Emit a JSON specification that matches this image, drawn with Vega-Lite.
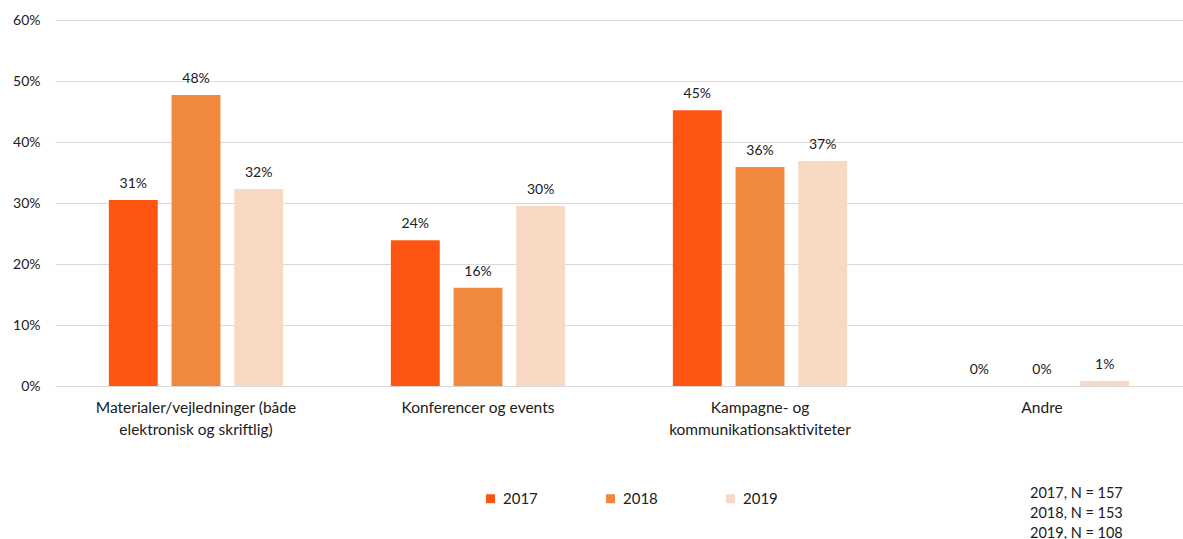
{
  "$schema": "https://vega.github.io/schema/vega-lite/v6.json",
  "width": 1128,
  "height": 366,
  "padding": {"left": 0, "top": 13, "right": 0, "bottom": 0},
  "background": "white",
  "config": {
    "view": {"stroke": null},
    "font": "Lato",
    "axis": {"labelFont": "Lato", "labelColor": "#404040", "labelFontSize": 13}
  },
  "title": {
    "text": ["2017, N = 157", "2018, N = 153", "2019, N = 108"],
    "orient": "bottom",
    "anchor": "end",
    "align": "left",
    "dx": -153,
    "offset": -20,
    "fontSize": 14.5,
    "fontWeight": "normal",
    "font": "Lato",
    "color": "#202020",
    "lineHeight": 20
  },
  "data": {
    "values": [
      {"kategori": "Materialer/vejledninger (både\nelektronisk og skriftlig)", "aar": "2017", "andel": 0.305},
      {"kategori": "Materialer/vejledninger (både\nelektronisk og skriftlig)", "aar": "2018", "andel": 0.477},
      {"kategori": "Materialer/vejledninger (både\nelektronisk og skriftlig)", "aar": "2019", "andel": 0.323},
      {"kategori": "Konferencer og events", "aar": "2017", "andel": 0.239},
      {"kategori": "Konferencer og events", "aar": "2018", "andel": 0.161},
      {"kategori": "Konferencer og events", "aar": "2019", "andel": 0.295},
      {"kategori": "Kampagne- og\nkommunikationsaktiviteter", "aar": "2017", "andel": 0.452},
      {"kategori": "Kampagne- og\nkommunikationsaktiviteter", "aar": "2018", "andel": 0.359},
      {"kategori": "Kampagne- og\nkommunikationsaktiviteter", "aar": "2019", "andel": 0.369},
      {"kategori": "Andre", "aar": "2017", "andel": 0},
      {"kategori": "Andre", "aar": "2018", "andel": 0},
      {"kategori": "Andre", "aar": "2019", "andel": 0.008}
    ]
  },
  "encoding": {
    "x": {
      "field": "kategori",
      "type": "nominal",
      "sort": null,
      "scale": {"paddingInner": 0.333, "paddingOuter": 0.1665},
      "axis": {
        "title": null,
        "labelAngle": 0,
        "domain": false,
        "ticks": false,
        "labelPadding": 14,
        "labelLineHeight": 22,
        "labelLimit": 0,
        "labelExpr": "split(datum.label, '\\n')",
        "labelFontSize": 15.5,
        "labelColor": "#202020"
      }
    },
    "xOffset": {
      "field": "aar",
      "type": "nominal",
      "scale": {"paddingInner": 0.22, "paddingOuter": 0.11}
    },
    "y": {
      "field": "andel",
      "type": "quantitative",
      "scale": {"domain": [0, 0.6]},
      "axis": {
        "title": null,
        "format": ".0%",
        "values": [0, 0.1, 0.2, 0.3, 0.4, 0.5, 0.6],
        "labelOverlap": false,
        "domain": false,
        "ticks": false,
        "gridColor": "#d9d9d9",
        "gridWidth": 1.2,
        "labelPadding": 15,
        "minExtent": 55,
        "maxExtent": 55,
        "labelFontSize": 14,
        "labelColor": "#202020"
      }
    }
  },
  "layer": [
    {
      "mark": {"type": "bar"},
      "encoding": {
        "color": {
          "field": "aar",
          "type": "nominal",
          "scale": {"domain": ["2017", "2018", "2019"], "range": ["#FF5512", "#F0883E", "#F9D9C4"]},
          "legend": {
            "title": null,
            "orient": "none",
            "direction": "horizontal",
            "legendX": 428,
            "legendY": 471,
            "symbolType": "square",
            "symbolSize": 81,
            "symbolStrokeWidth": 0,
            "labelFontSize": 15,
            "labelFont": "Lato",
            "labelColor": "#202020",
            "labelOffset": 5,
            "columnPadding": 65
          }
        }
      }
    },
    {
      "mark": {"type": "text", "baseline": "bottom", "dy": -9, "fontSize": 14, "color": "#202020", "font": "Lato"},
      "encoding": {
        "text": {"field": "andel", "type": "quantitative", "format": ".0%"}
      }
    }
  ]
}
